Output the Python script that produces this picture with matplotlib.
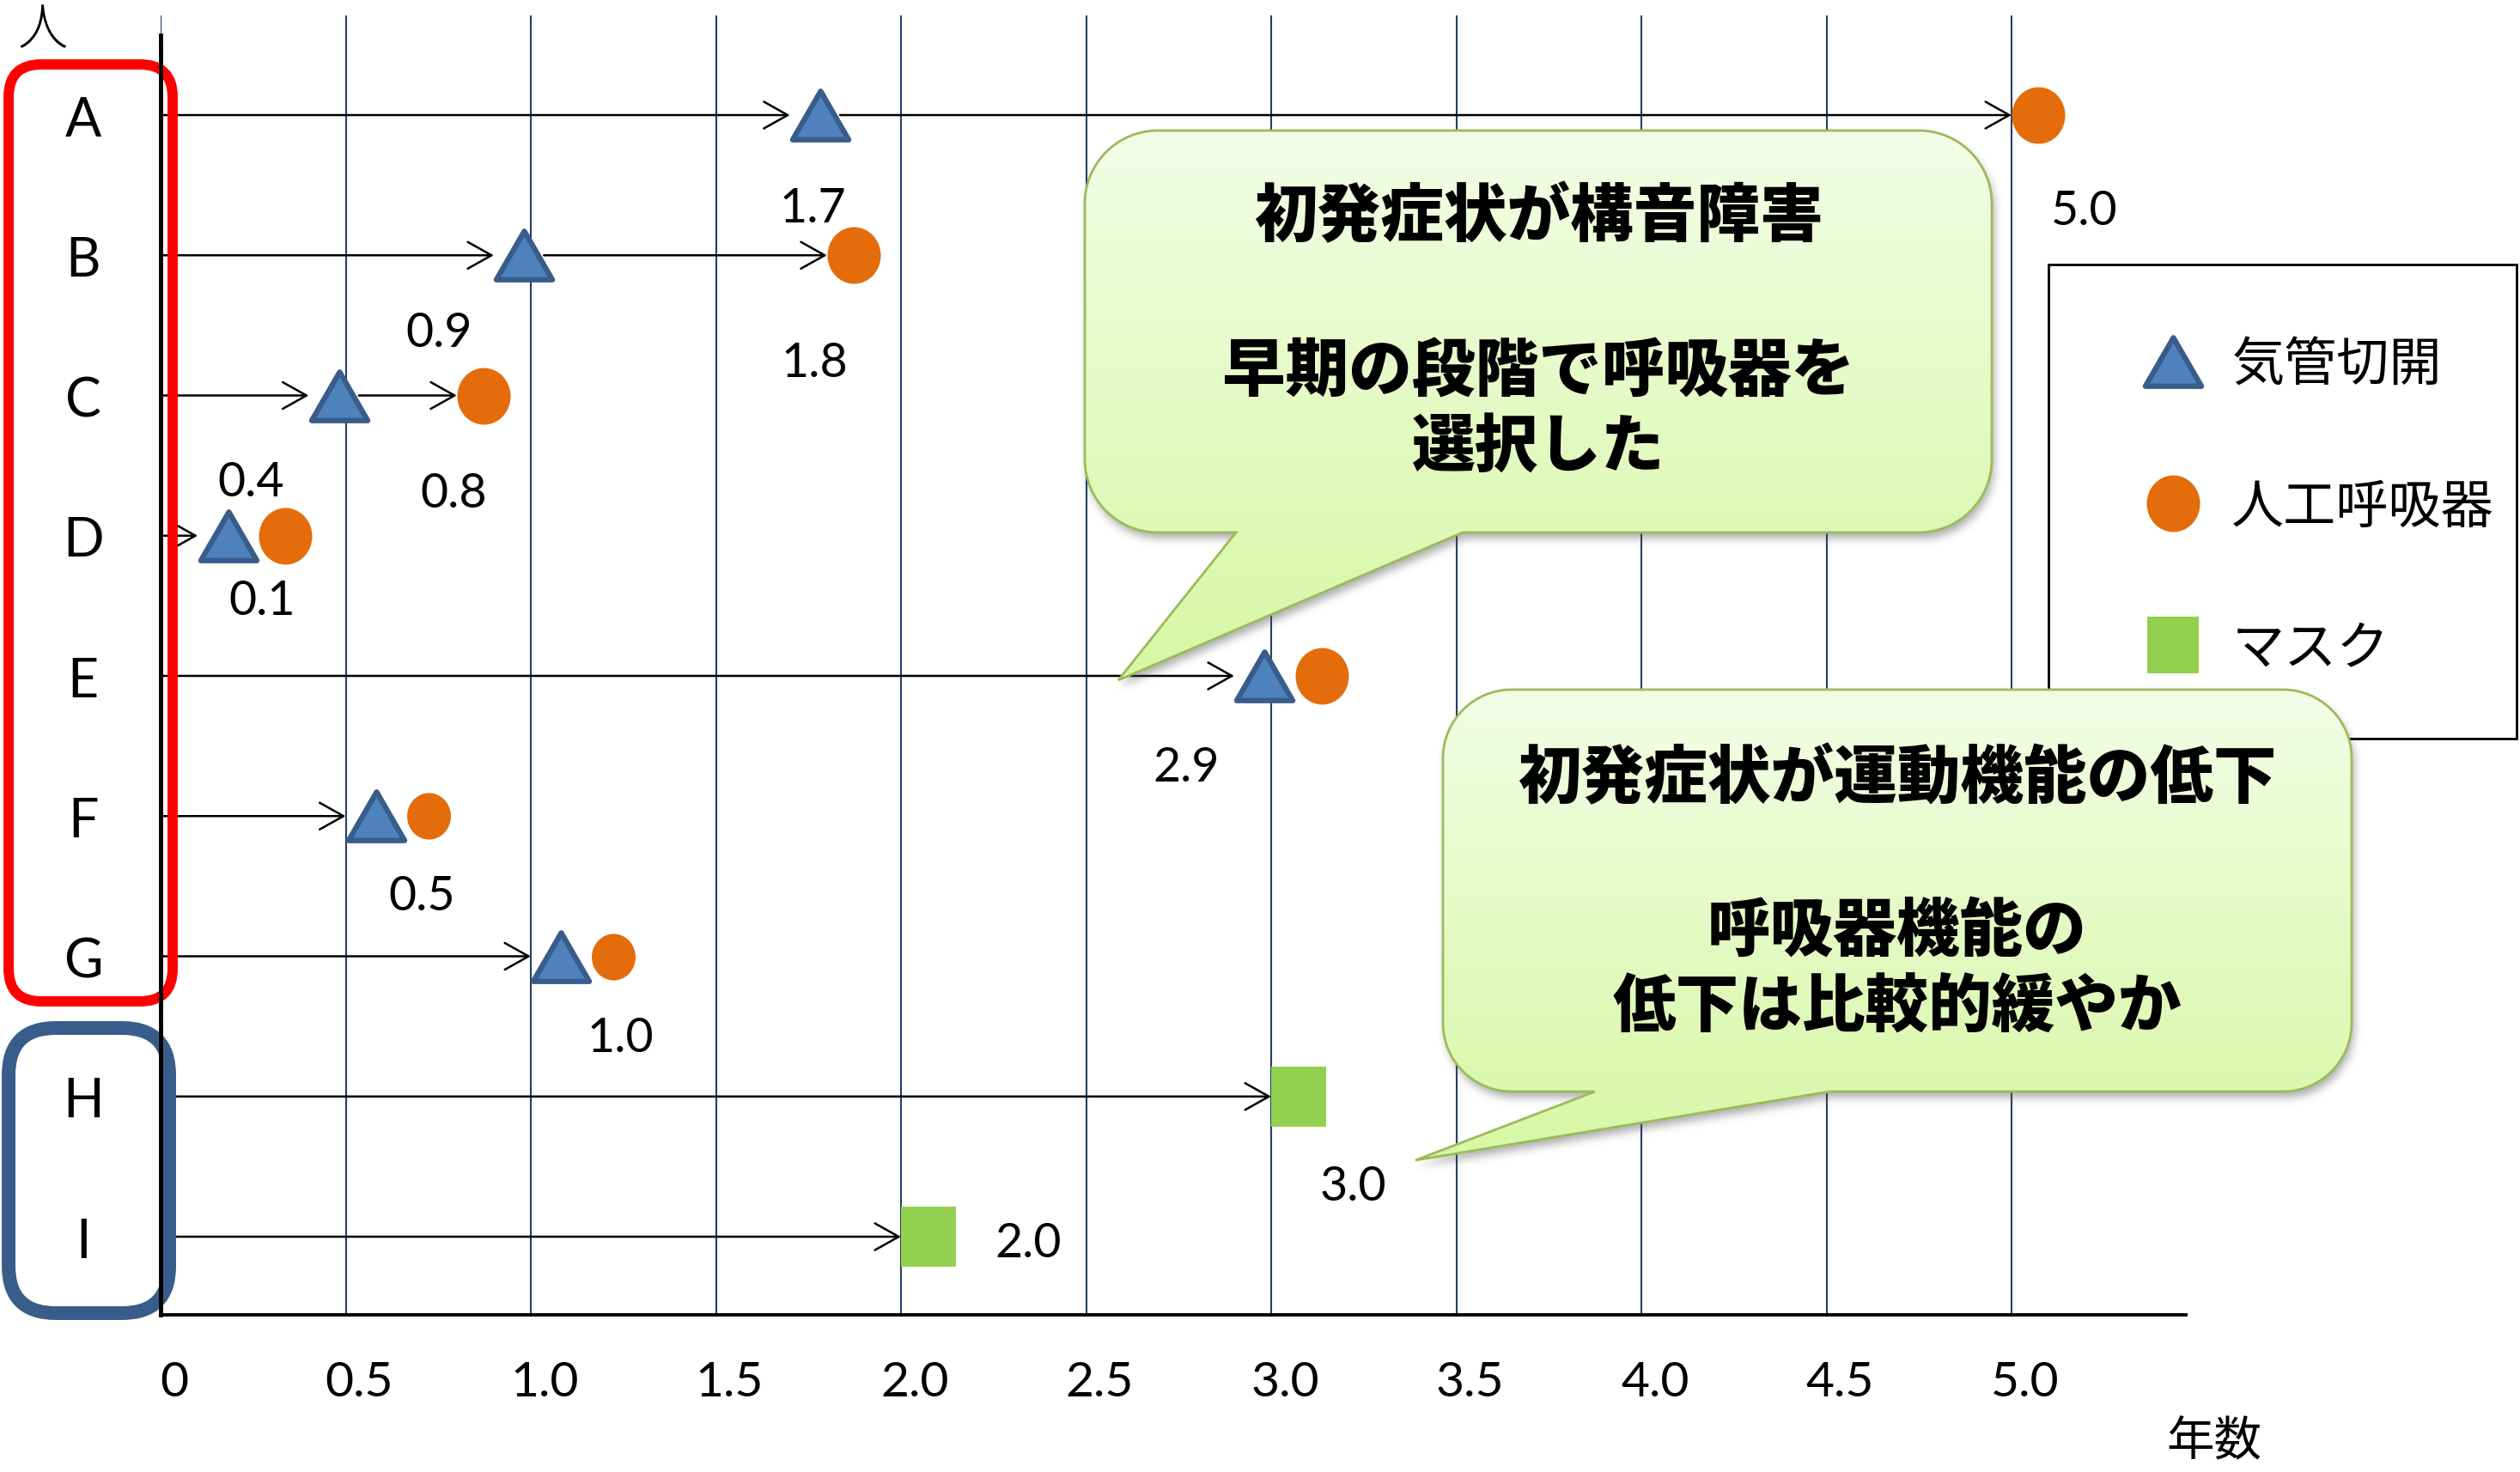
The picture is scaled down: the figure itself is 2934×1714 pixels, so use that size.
import numpy as np
import matplotlib
matplotlib.use("Agg")
import matplotlib.pyplot as plt
from matplotlib.path import Path
from matplotlib.patches import PathPatch, FancyBboxPatch, Rectangle
from matplotlib.markers import MarkerStyle
from matplotlib.lines import Line2D
from matplotlib.transforms import Affine2D, ScaledTranslation
from matplotlib.font_manager import FontProperties

# ---------------------------------------------------------------- data
persons = ["A", "B", "C", "D", "E", "F", "G", "H", "I"]
tracheostomy = [1.7, 0.9, 0.4, 0.1, 2.9, 0.5, 1.0, None, None]   # 気管切開
ventilator = [5.0, 1.8, 0.8, 0.1, 2.9, 0.5, 1.0, None, None]     # 人工呼吸器
mask = [None, None, None, None, None, None, None, 3.0, 2.0]      # マスク
x_ticks = [0, 0.5, 1.0, 1.5, 2.0, 2.5, 3.0, 3.5, 4.0, 4.5, 5.0]
x_tick_labels = ["0", "0.5", "1.0", "1.5", "2.0", "2.5", "3.0", "3.5", "4.0", "4.5", "5.0"]
legend_labels = ["気管切開", "人工呼吸器", "マスク"]
bubble1_lines = ["初発症状が構音障害", "", "早期の段階で呼吸器を", "選択した"]
bubble2_lines = ["初発症状が運動機能の低下", "", "呼吸器機能の", "低下は比較的緩やか"]

# ---------------------------------------------------------------- layout / style
W, H, DPI = 2934, 1715, 100
PX = DPI / 72.0                      # pixels per point
JP = "Noto Sans CJK JP"
LATIN = "Lato"
plt.rcParams["font.family"] = [LATIN, JP, "DejaVu Sans"]

TRI_FC, TRI_EC = "#4F81BD", "#385D8A"
CIRC_C = "#E46C0A"
MASK_C = "#92D050"
GRID_C = "#243F66"

tri_ms, tri_mew = 47, 4.5
circ_ms = [47.5, 47.5, 47.5, 47.5, 47.5, 39, 39, None, None]
mask_ms = 50
# value-label offsets (pixels, x right / y down) from each value point
tri_label_off = [(27, 108), (-64, 90), (-67, 101), (75, 76), (-56, 106), (89, 93), (104, 95), None, None]
vent_label_off = [(85, 111), (-14, 125), (-4, 114), None, None, None, None, None, None]
mask_label_off = [None] * 7 + [(95, 105), (148, 7)]

fig = plt.figure(figsize=(W / DPI, H / DPI), dpi=DPI)
ax = fig.add_axes([187 / W, 1 - 1532 / H, (2545 - 187) / W, (1532 - 19) / H])

n = len(persons)
rows = list(range(n, 0, -1))          # A at the top
ax.set_xlim(0, (2545 - 187) / 431.0)
ax.set_ylim(0.4426, 9.7106)

# markers
tri_path = Path([(-1, -0.866), (1, -0.866), (0, 0.866), (-1, -0.866)],
                [Path.MOVETO, Path.LINETO, Path.LINETO, Path.CLOSEPOLY])
TRI = MarkerStyle(tri_path, joinstyle="round")
uc = Path.unit_circle()
CIRC = MarkerStyle(Path(uc.vertices * [0.94, 1.0], uc.codes))
rect_path = Path([(-0.914, -1), (0.914, -1), (0.914, 1), (-0.914, 1), (-0.914, -1)],
                 [Path.MOVETO, Path.LINETO, Path.LINETO, Path.LINETO, Path.CLOSEPOLY])
RECT = MarkerStyle(rect_path, joinstyle="round")


def shifted(px):
    return ax.transData + ScaledTranslation(px / DPI, 0, fig.dpi_scale_trans)


arrow_kw = dict(arrowstyle="->,head_length=0.5,head_width=0.28", mutation_scale=40,
                lw=1.8, color="black", shrinkA=0, shrinkB=0)

tri_w_px = tri_ms * PX + tri_mew * PX * 0.9
for i, y in enumerate(rows):
    t, v, m = tracheostomy[i], ventilator[i], mask[i]
    first = t if t is not None else m
    ax.annotate("", xy=(first, y), xytext=(0, y), arrowprops=arrow_kw, zorder=2)
    if t is not None:
        ax.plot([t], [y], ls="none", marker=TRI, ms=tri_ms, mfc=TRI_FC, mec=TRI_EC,
                mew=tri_mew, transform=shifted(tri_w_px / 2), zorder=3, clip_on=False)
    if v is not None:
        half_c = 0.94 * circ_ms[i] * PX / 2
        if t is not None and v > t:
            ax.annotate("", xy=(v, y), xytext=(t, y),
                        arrowprops=dict(arrow_kw, shrinkA=42), zorder=2)
            dx = half_c
        else:
            dx = tri_w_px + half_c
        ax.plot([v], [y], ls="none", marker=CIRC, ms=circ_ms[i], mfc=CIRC_C, mew=0,
                transform=shifted(dx), zorder=3, clip_on=False)
    if m is not None:
        ax.plot([m], [y], ls="none", marker=RECT, ms=mask_ms, mfc=MASK_C, mew=0,
                transform=shifted(0.914 * mask_ms * PX / 2), zorder=3, clip_on=False)

    # value labels
    for val, off in ((t, tri_label_off[i]), (v, vent_label_off[i]), (m, mask_label_off[i])):
        if val is not None and off is not None:
            ax.annotate(f"{val:.1f}", xy=(val, y), xytext=(off[0], -off[1]),
                        textcoords="offset pixels", ha="center", va="center",
                        fontsize=40, family=LATIN, zorder=4)

# axes styling
ax.set_xticks(x_ticks, x_tick_labels)
ax.set_yticks(rows, persons)
ax.grid(axis="x", color=GRID_C, lw=1.5, zorder=0)
ax.set_axisbelow(True)
for s in ("top", "right"):
    ax.spines[s].set_visible(False)
ax.spines["left"].set_linewidth(3.5)
ax.spines["bottom"].set_linewidth(2.8)
ax.spines["left"].set_bounds(0.4426, 9.57)
ax.tick_params(axis="x", length=0, pad=38, labelsize=41)
ax.tick_params(axis="y", length=0, pad=65, labelsize=45)
for lbl in ax.get_yticklabels():
    lbl.set_ha("center")
for lbl in ax.get_xticklabels():
    lbl.set_transform(lbl.get_transform() + ScaledTranslation(0.16, 0, fig.dpi_scale_trans))

# pixel coordinates (origin top-left, y downward) for the decorations
pix = Affine2D().scale(1 / W, -1 / H).translate(0, 1) + fig.transFigure

# legend: white framed box with the key entries inside
ax.add_patch(Rectangle((2385, 309), 545, 552, transform=pix, fc="white", ec="black",
                       lw=2, clip_on=False, zorder=4.9))
handles = [
    Line2D([0], [0], ls="none", marker=TRI, ms=tri_ms, mfc=TRI_FC, mec=TRI_EC, mew=tri_mew),
    Line2D([0], [0], ls="none", marker=CIRC, ms=47.5, mfc=CIRC_C, mew=0),
    Line2D([0], [0], ls="none", marker=RECT, ms=47, mfc=MASK_C, mew=0),
]
leg = ax.legend(handles, legend_labels, loc="upper left",
                bbox_to_anchor=(2462 / W, 1 - 395 / H), bbox_transform=fig.transFigure,
                prop=FontProperties(family=JP, size=44), frameon=False,
                borderpad=0, labelspacing=1.68, handlelength=2.23, handletextpad=0.0,
                borderaxespad=0, numpoints=1)
leg.set_zorder(5)

# grouping frames around the person labels
for (x0, y0, x1, y1, r, col, lw) in [(10, 76, 201, 1167, 38, "#FF0000", 8.6),
                                     (10, 1198, 197, 1530, 55, "#385D8A", 11.5)]:
    ax.add_patch(FancyBboxPatch((x0, y0), x1 - x0, y1 - y0,
                                boxstyle=f"round,pad=0,rounding_size={r}",
                                fc="none", ec=col, lw=lw, transform=pix,
                                clip_on=False, zorder=2.2))

# ---------------------------------------------------------------- callouts overlay
ov = fig.add_axes([0, 0, 1, 1], zorder=10)
ov.set_xlim(0, W)
ov.set_ylim(H, 0)
ov.axis("off")

K = 0.5523


def bubble_path(x0, y0, x1, y1, r, ta, tb, tip):
    c = r * K
    v = [(x0 + r, y0), (x1 - r, y0),
         (x1 - r + c, y0), (x1, y0 + r - c), (x1, y0 + r),
         (x1, y1 - r),
         (x1, y1 - r + c), (x1 - r + c, y1), (x1 - r, y1),
         (tb, y1), tip, (ta, y1), (x0 + r, y1),
         (x0 + r - c, y1), (x0, y1 - r + c), (x0, y1 - r),
         (x0, y0 + r),
         (x0, y0 + r - c), (x0 + r - c, y0), (x0 + r, y0),
         (x0 + r, y0)]
    codes = ([Path.MOVETO, Path.LINETO] + [Path.CURVE4] * 3 + [Path.LINETO] +
             [Path.CURVE4] * 3 + [Path.LINETO] * 4 + [Path.CURVE4] * 3 +
             [Path.LINETO] + [Path.CURVE4] * 3 + [Path.CLOSEPOLY])
    return Path(v, codes)


def blur(a, sigma):
    rad = int(3 * sigma)
    k = np.exp(-0.5 * (np.arange(-rad, rad + 1) / sigma) ** 2)
    k /= k.sum()
    a = np.apply_along_axis(lambda m: np.convolve(m, k, mode="same"), 0, a)
    a = np.apply_along_axis(lambda m: np.convolve(m, k, mode="same"), 1, a)
    return a


top_rgb = np.array([0xF3, 0xFD, 0xE6]) / 255
bot_rgb = np.array([0xD6, 0xF8, 0xA4]) / 255


def draw_bubble(x0, y0, x1, y1, r, ta, tb, tip, lines, line_y):
    path = bubble_path(x0, y0, x1, y1, r, ta, tb, tip)
    xmin, xmax = min(x0, tip[0]), max(x1, tip[0])
    ymin, ymax = y0, max(y1, tip[1])
    # soft drop shadow
    m = 30
    dx, dy = 3, 7
    gx = np.arange(int(xmin) - m, int(xmax) + m)
    gy = np.arange(int(ymin) - m, int(ymax) + m)
    XX, YY = np.meshgrid(gx + 0.5 - dx, gy + 0.5 - dy)
    inside = path.contains_points(np.column_stack([XX.ravel(), YY.ravel()]))
    sh = blur(inside.reshape(XX.shape).astype(float), 5.0)
    rgba = np.zeros(sh.shape + (4,))
    rgba[..., :3] = 0.3
    rgba[..., 3] = sh * 0.45
    ov.imshow(rgba, extent=(gx[0], gx[-1] + 1, gy[-1] + 1, gy[0]), origin="upper",
              aspect="auto", interpolation="bilinear", zorder=1)
    # gradient body
    body = PathPatch(path, fc="none", ec="none")
    ov.add_patch(body)
    t = np.linspace(0, 1, 256)[:, None]
    grad = (top_rgb * (1 - t) + bot_rgb * t)[:, None, :]
    im = ov.imshow(grad, extent=(xmin, xmax, ymax, ymin), origin="upper",
                   aspect="auto", interpolation="bilinear", zorder=2)
    im.set_clip_path(body)
    ov.add_patch(PathPatch(path, fc="none", ec="#9BBB59", lw=2, zorder=3))
    cx = (x0 + x1) / 2
    for s, yy in zip(lines, line_y):
        if s:
            ov.text(cx, yy, s, ha="center", va="center", fontsize=53,
                    family=JP, fontweight="black", zorder=4)


draw_bubble(1263, 153, 2319, 621, 85, 1439, 1703, (1302, 793),
            bubble1_lines, [253, 343, 434, 522])
draw_bubble(1680, 804, 2738, 1272, 80, 1857, 2130, (1648, 1352),
            bubble2_lines, [907, 996, 1085, 1173])

ov.text(50, 36, "人", ha="center", va="center", fontsize=42, family=JP, fontweight="light")
ov.text(2578, 1680, "年数", ha="center", va="center", fontsize=40, family=JP)

ov.set_xlim(0, W)
ov.set_ylim(H, 0)
fig.savefig("out.png", dpi=DPI)
